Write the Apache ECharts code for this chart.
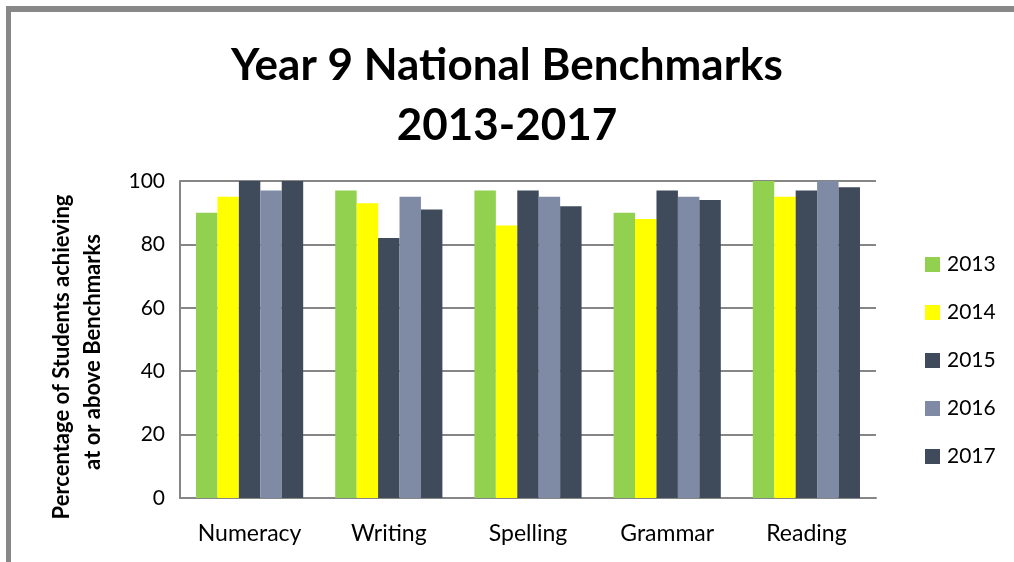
<!DOCTYPE html>
<html><head><meta charset="utf-8">
<script src="https://cdn.jsdelivr.net/npm/echarts@6/dist/echarts.min.js"></script>
<style>
html,body{margin:0;padding:0;background:#fff;}
#frame{position:absolute;left:6px;top:6px;width:1008px;height:556px;border-top:6px solid #888;border-left:5px solid #888;box-sizing:border-box;}
#c{position:absolute;left:0;top:0;width:1014px;height:562px;}
</style></head>
<body>
<div id="frame"></div>
<div id="c"></div>
<script>
const categories = ['Numeracy','Writing','Spelling','Grammar','Reading'];
const years = ['2013','2014','2015','2016','2017'];
const v2013 = [90, 97, 97, 90, 100];
const v2014 = [95, 93, 86, 88, 95];
const v2015 = [100, 82, 97, 97, 97];
const v2016 = [97, 95, 95, 95, 100];
const v2017 = [100, 91, 92, 94, 98];
const yTicks = [0, 20, 40, 60, 80, 100];
const colors = ['#92D050', '#FFFF00', '#3F4B5B', '#7F8BA5', '#3F4B5B'];

const allValues = [v2013, v2014, v2015, v2016, v2017];
const font = 'Lato, "Open Sans", sans-serif';
const chart = echarts.init(document.getElementById('c'), null, {renderer: 'canvas'});
chart.setOption({
  backgroundColor: 'transparent',
  animation: false,
  textStyle: {fontFamily: font},
  title: {
    text: 'Year 9 National Benchmarks\n2013-2017',
    left: 'center', top: 31,
    textStyle: {fontFamily: font, fontWeight: 'bold', fontSize: 44, lineHeight: 60, color: '#000'}
  },
  legend: {
    orient: 'vertical', left: 920, top: 249,
    itemWidth: 15, itemHeight: 15, itemGap: 27,
    icon: 'rect',
    textStyle: {fontFamily: font, fontSize: 21, lineHeight: 21, color: '#000', padding: [0,0,0,2]},
    data: years
  },
  grid: {left: 180, right: 138, top: 181, bottom: 64},
  xAxis: {
    type: 'category', data: categories,
    axisLine: {lineStyle: {color: '#868686', width: 2}},
    axisTick: {show: false},
    axisLabel: {fontFamily: font, fontSize: 23, color: '#000', margin: 24}
  },
  yAxis: {
    type: 'value', min: yTicks[0], max: yTicks[yTicks.length-1], interval: 20,
    axisLine: {show: true, lineStyle: {color: '#868686', width: 2}},
    axisTick: {show: false},
    splitLine: {lineStyle: {color: '#868686', width: 2}},
    axisLabel: {fontFamily: font, fontSize: 21, color: '#000', margin: 15}
  },
  graphic: [
    {type: 'text', x: 62, y: 357, rotation: Math.PI/2,
     style: {text: 'Percentage of Students achieving', font: 'bold 22px ' + font, fill: '#000', align: 'center', verticalAlign: 'middle'}},
    {type: 'text', x: 93, y: 352, rotation: Math.PI/2,
     style: {text: 'at or above Benchmarks', font: 'bold 22px ' + font, fill: '#000', align: 'center', verticalAlign: 'middle'}}
  ],
  series: years.map((y, i) => ({
    name: y, type: 'bar', data: allValues[i],
    barGap: '0%', barCategoryGap: '23%',
    itemStyle: {color: colors[i]}
  }))
});
</script>
</body></html>
